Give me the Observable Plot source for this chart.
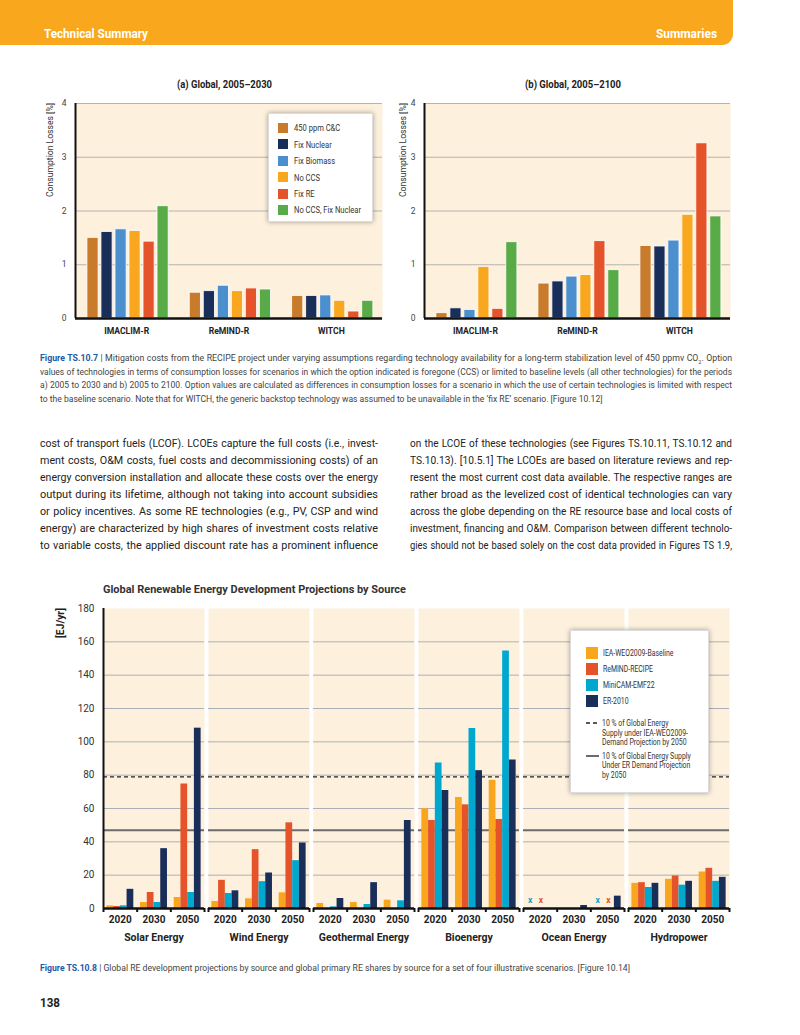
<!DOCTYPE html>
<html>
<head>
<meta charset="utf-8">
<script src="https://cdn.jsdelivr.net/npm/d3@7"></script>
<script src="https://cdn.jsdelivr.net/npm/@observablehq/plot@0.6"></script>
<style>
  html,body{margin:0;padding:0;background:#fff;}
  #page{position:relative;width:800px;height:1035px;overflow:hidden;background:#fff;
    font-family:Roboto,"Liberation Sans",sans-serif;color:#3a3a3a;}
  .abs{position:absolute;}
  #hdr{left:0;top:0;width:733px;height:45px;background:#f9a81e;border-bottom-right-radius:11px;}
  .line{position:absolute;display:inline-block;white-space:nowrap;transform-origin:0 50%;}
  .vline{position:absolute;display:inline-block;white-space:nowrap;transform-origin:0 0;}
  .legend{position:absolute;background:#fff;border:1px solid #dcdcdc;box-shadow:0 0 5px rgba(0,0,0,0.35);}
  .sw{position:absolute;}
  .fig{color:#1f5aa6;font-weight:bold;}
</style>
</head>
<body>
<div id="page">
  <div id="hdr" class="abs"></div>
  <div id="chartA" class="abs" style="left:40px;top:92px;"></div>
  <div id="chartB" class="abs" style="left:400px;top:92px;"></div>
  <div id="legA" class="legend" style="left:268px;top:113px;width:103px;height:107px;"></div>
  <div id="chartC" class="abs" style="left:40px;top:600px;"></div>
  <div id="legC" class="legend" style="left:570px;top:630px;width:137px;height:161px;"></div>
</div>
<script>
// ---------- Top charts data ----------
const models = ["IMACLIM-R", "ReMIND-R", "WITCH"];
const scenarios = ["450 ppm C&C", "Fix Nuclear", "Fix Biomass", "No CCS", "Fix RE", "No CCS, Fix Nuclear"];
const scenarioColors = ["#c77b2b", "#1a2e5a", "#4b8fce", "#f8a71f", "#e4532a", "#58ab47"];
const lossA_IMACLIM = [1.50, 1.61, 1.66, 1.63, 1.43, 2.09];
const lossA_ReMIND  = [0.48, 0.51, 0.61, 0.51, 0.56, 0.54];
const lossA_WITCH   = [0.42, 0.42, 0.43, 0.33, 0.13, 0.33];
const lossB_IMACLIM = [0.10, 0.19, 0.16, 0.96, 0.18, 1.42];
const lossB_ReMIND  = [0.65, 0.69, 0.78, 0.81, 1.44, 0.90];
const lossB_WITCH   = [1.35, 1.34, 1.45, 1.93, 3.26, 1.90];
const lossTicks = [0, 1, 2, 3, 4];

// ---------- Bottom chart data ----------
const sources = ["Solar Energy", "Wind Energy", "Geothermal Energy", "Bioenergy", "Ocean Energy", "Hydropower"];
const years = ["2020", "2030", "2050"];
const series = ["IEA-WEO2009-Baseline", "ReMIND-RECIPE", "MiniCAM-EMF22", "ER-2010"];
const seriesColors = ["#f9a61e", "#e4532a", "#00a8cf", "#1a2e5a"];
// values ordered source by source, 2020/2030/2050
const ieaValues     = [1.6, 3.6, 6.6,   4.2, 5.8, 9.4,    3.0, 3.6, 5.0,   59.8, 66.6, 76.9,   null, null, null, 15.1, 17.5, 21.9];
const remindValues  = [1.2, 9.6, 74.7,  16.9, 35.3, 51.4, null, null, null, 52.8, 62.2, 53.4,  null, null, null, 15.5, 19.5, 24.1];
const minicamValues = [1.6, 3.6, 9.6,   9.0, 16.1, 28.7,  1.0, 2.4, 4.6,   87.3, 108.0, 154.5, null, null, null, 12.6, 14.0, 16.3];
const erValues      = [11.5, 35.9, 108.2, 10.6, 21.3, 39.3, 6.0, 15.5, 52.8, 70.8, 82.7, 89.1, null, 1.8, 7.4,  15.1, 16.3, 18.7];
const energyTicks = [0, 20, 40, 60, 80, 100, 120, 140, 160, 180];
const shareIEA = [79];   // 10 % of global energy supply, IEA-WEO2009 demand 2050
const shareER = [47];    // 10 % of global energy supply, ER demand 2050
const noData = [
  {source: "Ocean Energy", year: "2020", series: "MiniCAM-EMF22"},
  {source: "Ocean Energy", year: "2020", series: "ReMIND-RECIPE"},
  {source: "Ocean Energy", year: "2050", series: "MiniCAM-EMF22"},
  {source: "Ocean Energy", year: "2050", series: "ReMIND-RECIPE"}
];

const FONT = 'Roboto,"Liberation Sans",sans-serif';
const PEACH = "#fdf0dc";

// ---------- Top charts ----------
const S = 7.3; // slot width (in bar steps) per model group
function topRows(arrs) {
  const out = [];
  models.forEach((m, mi) => scenarios.forEach((s, si) => out.push({model: m, mi, scenario: s, si, value: arrs[mi][si]})));
  return out;
}
function topChart(rows, width, marginLeft) {
  return Plot.plot({
    width, height: 250, marginLeft, marginRight: 8, marginTop: 11, marginBottom: 24,
    x: {domain: [0, 3 * S]},
    y: {domain: [0, 4]},
    color: {domain: scenarios, range: scenarioColors},
    style: {fontFamily: FONT, fontSize: "8.5px", color: "#333", background: "transparent", overflow: "visible"},
    marks: [
      Plot.frame({fill: PEACH, stroke: "none"}),
      Plot.gridY({ticks: [1, 2, 3, 4], stroke: "#b7b3ad", strokeOpacity: 1, strokeWidth: 1}),
      Plot.rect(rows, {
        x1: d => d.mi * S + 0.85 + d.si, x2: d => d.mi * S + 1.65 + d.si,
        y1: 0, y2: "value", fill: "scenario", stroke: "#fff", strokeOpacity: 0.85, strokeWidth: 1
      }),
      Plot.ruleY([0], {stroke: "#111", strokeWidth: 2.5}),
      Plot.ruleX([0], {y1: 0, y2: 4, stroke: "#111", strokeWidth: 2}),
      Plot.axisY({ticks: lossTicks, tickFormat: d => String(d), tickSize: 0, tickPadding: 9, fontSize: 8.5, fill: "#444", label: null}),
      Plot.axisX({ticks: models.map((m, i) => i * S + S / 2), tickFormat: d => models[Math.round((d - S / 2) / S)],
        tickSize: 0, tickPadding: 9, fontWeight: "bold", fontSize: 8.6, fill: "#222", label: null})
    ]
  });
}
document.getElementById("chartA").append(topChart(topRows([lossA_IMACLIM, lossA_ReMIND, lossA_WITCH]), 350, 35));
document.getElementById("chartB").append(topChart(topRows([lossB_IMACLIM, lossB_ReMIND, lossB_WITCH]), 338, 24));

// ---------- Bottom chart ----------
const seriesValues = [ieaValues, remindValues, minicamValues, erValues];
const rowsC = [];
sources.forEach((src, ci) => years.forEach((yr, yi) => series.forEach((s, si) => {
  const v = seriesValues[si][ci * 3 + yi];
  if (v != null) rowsC.push({source: src, year: yr, yi, series: s, si, value: v});
})));
const noDataRows = noData.map(d => {
  const same = noData.filter(e => e.source === d.source && e.year === d.year);
  return {...d, yi: years.indexOf(d.year), k: same.indexOf(d)};
});

const chartC = Plot.plot({
  width: 700, height: 349, marginLeft: 62, marginRight: 11, marginTop: 8, marginBottom: 41,
  fx: {domain: sources, paddingInner: 0.04, paddingOuter: 0, label: null},
  x: {domain: [0, 15]},
  y: {domain: [0, 180]},
  color: {domain: series, range: seriesColors},
  style: {fontFamily: FONT, fontSize: "10px", color: "#333", background: "transparent", overflow: "visible"},
  marks: [
    Plot.frame({fill: PEACH, stroke: "none"}),
    Plot.gridY({ticks: energyTicks.filter(t => t > 0 && t < 180), stroke: "#adafb8", strokeOpacity: 1, strokeWidth: 1}),
    Plot.ruleY(shareIEA, {stroke: "#222", strokeWidth: 1.3, strokeDasharray: "4,3"}),
    Plot.ruleY(shareER, {stroke: "#6b6b6b", strokeWidth: 2}),
    Plot.rect(rowsC, {fx: "source", x1: d => d.yi * 5 + 0.5 + d.si, x2: d => d.yi * 5 + 1.5 + d.si,
      y1: 0, y2: "value", fill: "series"}),
    Plot.text(noDataRows, {fx: "source", x: d => d.yi * 5 + 1.0 + 1.6 * d.k, y: 0, dy: -8, text: () => "x",
      fill: "series", fontWeight: "bold", fontSize: 8.5}),
    Plot.ruleY([0], {stroke: "#111", strokeWidth: 2.5}),
    Plot.ruleX([{source: sources[0]}], {fx: "source", x: () => 0, y1: 0, y2: 180, stroke: "#111", strokeWidth: 2}),
    Plot.axisX({ticks: [0, 5, 10, 15], tickSize: 4, tickFormat: () => "", stroke: "#111", strokeWidth: 2, label: null}),
    Plot.axisX({ticks: years.map((y, i) => i * 5 + 2.5), tickFormat: d => years[Math.round((d - 2.5) / 5)],
      tickSize: 0, tickPadding: 7, fontWeight: "bold", fontSize: 10, fill: "#222", label: null}),
    Plot.axisY({ticks: energyTicks, tickSize: 0, tickPadding: 9, fontSize: 10, fill: "#333", label: null}),
    Plot.axisFx({anchor: "bottom", tickSize: 0, tickPadding: 25, fontWeight: "bold", fontSize: 10.5, fill: "#222", label: null})
  ]
});
document.getElementById("chartC").append(chartC);

// ---------- Text helpers ----------
const page = document.getElementById("page");
function place(parent, html, o) {
  const el = document.createElement("div");
  el.className = "line";
  el.style.fontSize = o.size + "px";
  el.style.lineHeight = (o.lh || o.size * 1.2) + "px";
  el.style.color = o.color || "#333";
  if (o.weight) el.style.fontWeight = o.weight;
  el.innerHTML = html;
  parent.append(el);
  const nat = el.getBoundingClientRect().width;
  const h = el.getBoundingClientRect().height;
  let c = o.cond || 1;
  const spaces = (el.textContent.match(/ /g) || []).length;
  if (o.mode === "justify") {
    // condense glyphs so that the line fills the width with slightly widened spaces
    c = o.width / (nat + spaces * (o.extra != null ? o.extra : 0.6));
    el.style.wordSpacing = (o.width / c - nat) / spaces + "px";
  } else if (o.mode === "fit") {
    c = o.width / nat;
  }
  let left = o.left;
  if (o.center != null) left = o.center - nat * c / 2;
  if (o.right != null) left = o.right - nat * c;
  el.style.left = left + "px";
  el.style.top = (o.cy - h / 2) + "px";
  el.style.transform = `scaleX(${c})`;
  el._c = c;
  return el;
}
function measure(html, size, weight) {
  const el = document.createElement("div");
  el.className = "line";
  el.style.fontSize = size + "px";
  if (weight) el.style.fontWeight = weight;
  el.innerHTML = html;
  page.append(el);
  const w = el.getBoundingClientRect().width;
  el.remove();
  return w;
}
function vplace(html, o) { // vertical text reading bottom-to-top, fitted to a length
  const el = document.createElement("div");
  el.className = "vline";
  el.style.fontSize = o.size + "px";
  el.style.lineHeight = o.size * 1.2 + "px";
  el.style.color = o.color || "#333";
  if (o.weight) el.style.fontWeight = o.weight;
  el.innerHTML = html;
  page.append(el);
  const nat = el.getBoundingClientRect().width;
  const h = el.getBoundingClientRect().height;
  el.style.left = (o.cx - h / 2) + "px";
  el.style.top = o.bottom + "px";
  el.style.transform = `rotate(-90deg) scaleX(${o.length / nat})`;
}

// header
place(page, "Technical Summary", {left: 44, cy: 34, size: 13, weight: "bold", color: "#fff", mode: "fit", width: 104});
place(page, "Summaries", {right: 717, cy: 34, size: 13, weight: "bold", color: "#fff", mode: "fit", width: 61});

// top chart titles / axis labels
place(page, "(a) Global, 2005–2030", {center: 224, cy: 85, size: 10, weight: "bold", color: "#222", mode: "fit", width: 95});
place(page, "(b) Global, 2005–2100", {center: 573, cy: 85, size: 10, weight: "bold", color: "#222", mode: "fit", width: 96});
vplace("Consumption Losses [%]", {cx: 50, bottom: 197, length: 94, size: 9, color: "#333"});
vplace("Consumption Losses [%]", {cx: 403, bottom: 197, length: 94, size: 9, color: "#333"});

// bottom chart title / axis label
place(page, "Global Renewable Energy Development Projections by Source", {left: 103, cy: 590, size: 11, weight: "bold", color: "#333", mode: "fit", width: 303});
vplace("[EJ/yr]", {cx: 61, bottom: 638, length: 30, size: 10.5, weight: "bold", color: "#222"});

// legends
const legA = document.getElementById("legA");
const cA = 67 / measure("No CCS, Fix Nuclear", 9.2);
scenarios.forEach((s, i) => {
  const cy = 14 + i * 16.4;
  legA.insertAdjacentHTML("beforeend",
    `<div class="sw" style="left:9px;top:${cy - 5}px;width:10px;height:10px;background:${scenarioColors[i]}"></div>`);
  place(legA, s.replace("&", "&amp;"), {left: 24.5, cy, size: 9.2, color: "#333", cond: cA});
});
const legC = document.getElementById("legC");
const cC = 88.7 / measure("10 % of Global Energy Supply", 8.6);
series.forEach((s, i) => {
  const cy = 21.7 + i * 16.1;
  legC.insertAdjacentHTML("beforeend",
    `<div class="sw" style="left:15px;top:${cy - 6}px;width:12px;height:12px;background:${seriesColors[i]}"></div>`);
  place(legC, s, {left: 31.5, cy, size: 8.6, color: "#333", cond: cC});
});
function lineLegend(cy, dashed, lines) {
  legC.insertAdjacentHTML("beforeend",
    `<svg class="sw" style="left:15px;top:${cy - 2}px" width="13" height="4"><line x1="0" x2="13" y1="2" y2="2" stroke="${dashed ? '#222' : '#6b6b6b'}" stroke-width="${dashed ? 1.4 : 2}" ${dashed ? 'stroke-dasharray="4,3"' : ''}/></svg>`);
  lines.forEach((l, i) => place(legC, l, {left: 30.5, cy: cy + i * 9.4, size: 8.6, color: "#333", cond: cC}));
}
lineLegend(92.3, true, ["10 % of Global Energy", "Supply under IEA-WEO2009-", "Demand Projection by 2050"]);
lineLegend(125, false, ["10 % of Global Energy Supply", "Under ER Demand Projection", "by 2050"]);

// caption 1
const cap1Lines = [
  '<span class="fig">Figure TS.10.7</span> | Mitigation costs from the RECIPE project under varying assumptions regarding technology availability for a long-term stabilization level of 450 ppmv CO<sub style="font-size:6px;line-height:0">2</sub>. Option',
  'values of technologies in terms of consumption losses for scenarios in which the option indicated is foregone (CCS) or limited to baseline levels (all other technologies) for the periods',
  'a) 2005 to 2030 and b) 2005 to 2100. Option values are calculated as differences in consumption losses for a scenario in which the use of certain technologies is limited with respect',
  'to the baseline scenario. Note that for WITCH, the generic backstop technology was assumed to be unavailable in the ‘fix RE’ scenario. [Figure 10.12]'
];
let capC = 0;
cap1Lines.forEach((l, i) => {
  if (i < 3) capC += place(page, l, {left: 40, cy: 358 + i * 13.6, size: 9.6, color: "#444", mode: "justify", width: 692, extra: 0.3})._c;
  else place(page, l, {left: 40, cy: 358 + i * 13.6, size: 9.6, color: "#444", cond: capC / 3});
});

// body text
const leftCol = [
  "cost of transport fuels (LCOF). LCOEs capture the full costs (i.e., invest-",
  "ment costs, O&amp;M costs, fuel costs and decommissioning costs) of an",
  "energy conversion installation and allocate these costs over the energy",
  "output during its lifetime, although not taking into account subsidies",
  "or policy incentives. As some RE technologies (e.g., PV, CSP and wind",
  "energy) are characterized by high shares of investment costs relative",
  "to variable costs, the applied discount rate has a prominent influence"
];
const rightCol = [
  "on the LCOE of these technologies (see Figures TS.10.11, TS.10.12 and",
  "TS.10.13). [10.5.1] The LCOEs are based on literature reviews and rep-",
  "resent the most current cost data available. The respective ranges are",
  "rather broad as the levelized cost of identical technologies can vary",
  "across the globe depending on the RE resource base and local costs of",
  "investment, financing and O&amp;M. Comparison between different technolo-",
  "gies should not be based solely on the cost data provided in Figures TS 1.9,"
];
leftCol.forEach((l, i) => place(page, l, {left: 40, cy: 444 + i * 17, size: 11.4, color: "#222", mode: "justify", width: 338, extra: 0.8}));
rightCol.forEach((l, i) => place(page, l, {left: 410, cy: 444 + i * 17, size: 11.4, color: "#222", mode: "justify", width: 322, extra: 0.8}));

// caption 2 and page number
place(page, '<span class="fig">Figure TS.10.8</span> | Global RE development projections by source and global primary RE shares by source for a set of four illustrative scenarios. [Figure 10.14]',
  {left: 40, cy: 968, size: 9.6, color: "#444", mode: "fit", width: 590});
place(page, "138", {left: 40, cy: 1003, size: 13, weight: "bold", color: "#222", mode: "fit", width: 20});
</script>
</body>
</html>
